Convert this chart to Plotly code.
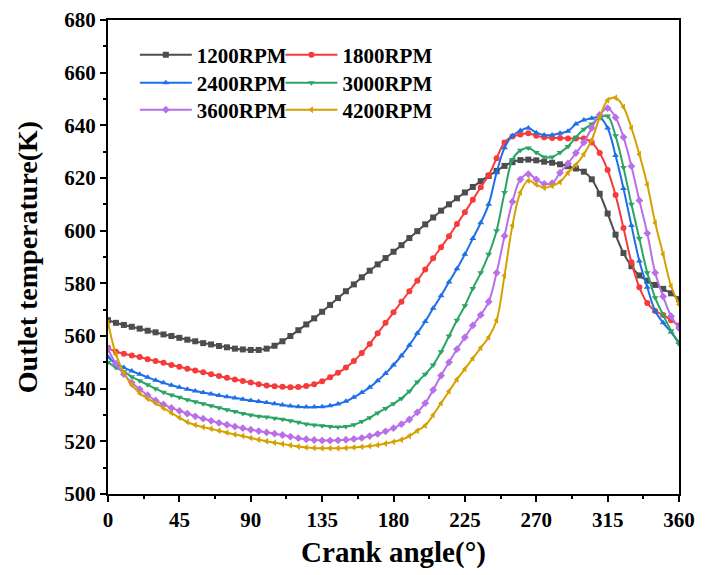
import plotly.graph_objects as go


ANGLE = list(range(0, 361, 5))

T_1200 = [
    566, 565, 564.2, 563.5, 562.8, 562, 561.4, 560.6, 560, 559.3,
    558.6, 558, 557.3, 556.8, 556.2, 555.7, 555.2, 554.9, 554.7, 554.7,
    555.2, 556.3, 558, 560, 562.2, 564.4, 566.7, 569.2, 571.8, 574.4,
    577, 579.6, 582.3, 584.8, 587.2, 589.6, 592, 594.5, 597.2, 599.8,
    602.4, 605, 607.6, 610, 612.3, 614.5, 616.6, 618.8, 620.8, 622.7,
    624.6, 626, 626.8, 627, 626.7, 626.2, 625.8, 625.2, 624.5, 623.6,
    622.4, 619.5, 614, 606.5, 598.5, 591.5, 586.5, 583, 581, 579.4,
    577.9, 576.2, 574,
]
T_1800 = [
    555.5, 554, 553.3, 552.6, 552, 551.2, 550.5, 549.8, 549, 548.3,
    547.6, 546.9, 546.2, 545.5, 544.8, 544.1, 543.5, 542.9, 542.3, 541.7,
    541.2, 540.9, 540.7, 540.5, 540.6, 541, 541.7, 542.8, 544.3, 546,
    548, 550.5, 553.5, 557, 561, 565, 569, 573, 577, 581,
    585.3, 589.5, 593.7, 597.9, 602.5, 607, 611.7, 616.5, 621, 627.5,
    633.5, 635.8, 636.5, 637, 636, 635.5, 635.2, 635.2, 635, 635,
    635, 633.5, 629.5, 623, 613.5, 601, 588, 578.5, 572.5, 569.5,
    568, 566, 564,
]
T_2400 = [
    552, 549.5, 548, 546.7, 545.5, 544.3, 543.2, 542.2, 541.3, 540.5,
    539.8, 539.1, 538.5, 538, 537.4, 536.9, 536.5, 536, 535.5, 535.1,
    534.7, 534.3, 533.8, 533.4, 533.1, 533, 533, 533.1, 533.5, 534.2,
    535.2, 536.7, 538.5, 540.5, 543, 545.8, 549, 552.5, 556.5, 561,
    565.5, 570.5, 575.3, 580.5, 585.5, 591, 597, 603, 610, 622,
    631.5, 636, 638, 639, 637.2, 636.3, 636.3, 637, 637.8, 640.5,
    642, 642.7, 643, 639, 628.5, 616, 602, 588.5, 578.5, 569.5,
    565, 561.5, 557.5,
]
T_3000 = [
    550, 548, 546.5, 544.5, 543, 541.5, 540, 538.6, 537.6, 536.7,
    535.8, 535, 534.3, 533.5, 532.8, 532, 531.3, 530.6, 530, 529.5,
    529.2, 528.8, 528.4, 527.8, 527.2, 526.6, 526.2, 525.9, 525.6, 525.4,
    525.6, 526.3, 527.5, 529, 530.8, 532.5, 534.3, 536.3, 539, 542.5,
    545.5, 549, 554, 560, 566, 571.5, 578, 584, 591, 600,
    614.5, 627, 630.5, 631.4, 629.7, 628, 628, 629.7, 632, 635.5,
    638.5, 640.5, 643, 643.5, 636, 624, 610, 597, 584, 574.5,
    568, 562, 557,
]
T_3600 = [
    555, 549.5, 545.5, 542.3, 539.8, 537.5, 535.5, 534, 532.7, 531.6,
    530.5, 529.5, 528.6, 527.8, 527, 526.3, 525.6, 525, 524.4, 523.9,
    523.4, 522.9, 522.4, 521.8, 521.2, 520.8, 520.5, 520.3, 520.3, 520.4,
    520.6, 520.9, 521.3, 522, 522.8, 523.8, 525, 526.5, 528.3, 531,
    534.5, 539.5, 545, 550, 555, 559.5, 564, 568, 573, 584,
    598, 611, 619.5, 621.5, 619.5, 617.8, 618, 622, 625.5, 629.5,
    633.5, 639, 644, 646.5, 643, 635.5, 624.5, 611.5, 599, 584,
    575, 567.5, 563,
]
T_4200 = [
    565, 553, 546, 541.4, 538.3, 536.2, 534.5, 532.6, 530.8, 529,
    527.3, 526.2, 525.4, 524.8, 524, 523.3, 522.6, 522, 521.3, 520.6,
    520, 519.5, 519, 518.5, 518, 517.7, 517.5, 517.4, 517.4, 517.4,
    517.5, 517.7, 517.9, 518.2, 518.6, 519.2, 519.8, 520.6, 522, 524,
    526, 530, 534.5, 539, 543.5, 547.5, 551.5, 555.5, 559.5, 566,
    583, 602, 614.5, 619, 617.5, 616.3, 617, 618.5, 622, 625,
    629, 634.5, 643, 649.5, 650.5, 647, 639, 629, 617.5, 603,
    591, 579, 572,
]

# name, values, colour, marker, legend column, legend row
SERIES = [
    ("1200RPM", T_1200, "#4d4d4d", "square", 0, 0),
    ("1800RPM", T_1800, "#f53b3b", "circle", 1, 0),
    ("2400RPM", T_2400, "#1e6fe8", "triangle-up", 0, 1),
    ("3000RPM", T_3000, "#2ca463", "triangle-down", 1, 1),
    ("3600RPM", T_3600, "#b86fe8", "diamond", 0, 2),
    ("4200RPM", T_4200, "#d6a100", "triangle-left", 1, 2),
]

FONT = "Liberation Serif"
LEGEND_X = [0.047, 0.302]
LEGEND_Y = [0.926, 0.867, 0.810]


def main() -> None:
    fig = go.Figure()
    legends = {}

    for i, (name, values, color, symbol, col, row) in enumerate(SERIES):
        key = "legend" if i == 0 else f"legend{i + 1}"
        fig.add_trace(
            go.Scatter(
                x=ANGLE,
                y=values,
                mode="lines+markers",
                name=name,
                legend=key,
                line=dict(color=color, width=2, shape="spline"),
                marker=dict(symbol=symbol, size=6, color=color),
            )
        )
        legends[key] = dict(
            font=dict(family=FONT, size=21, color="black", weight="bold"),
            bgcolor="rgba(0,0,0,0)",
            borderwidth=0,
            itemwidth=52,
            yanchor="middle",
            xanchor="left",
            x=LEGEND_X[col],
            y=LEGEND_Y[row],
        )

    axis_common = dict(
        showline=True,
        linecolor="black",
        linewidth=2,
        mirror=True,
        showgrid=False,
        zeroline=False,
        automargin=False,
        ticks="outside",
        ticklen=6,
        tickwidth=2,
        tickcolor="black",
        tickfont=dict(family=FONT, size=21, color="black", weight="bold"),
    )

    fig.update_xaxes(
        range=[0, 360],
        tickvals=[0, 45, 90, 135, 180, 225, 270, 315, 360],
        minor=dict(ticks="outside", ticklen=3, tickwidth=2, tickcolor="black", dtick=22.5, tick0=0),
        title=dict(
            text="Crank angle(°)",
            font=dict(family=FONT, size=29, color="black", weight="bold"),
            standoff=10,
        ),
        **axis_common,
    )
    fig.update_yaxes(
        range=[500, 680],
        dtick=20,
        minor=dict(ticks="outside", ticklen=3, tickwidth=2, tickcolor="black", dtick=10),
        title=dict(
            text="Outlet temperature(K)",
            font=dict(family=FONT, size=28, color="black", weight="bold"),
            standoff=18,
        ),
        **axis_common,
    )

    # page body adds an 8px offset, so the figure is a bit smaller than the window
    fig.update_layout(
        width=705,
        height=567,
        template="plotly_white",
        plot_bgcolor="white",
        paper_bgcolor="white",
        margin=dict(l=100, r=34, t=12, b=81),
        showlegend=True,
        **legends,
    )

    fig.write_html("out.html")


if __name__ == "__main__":
    main()
